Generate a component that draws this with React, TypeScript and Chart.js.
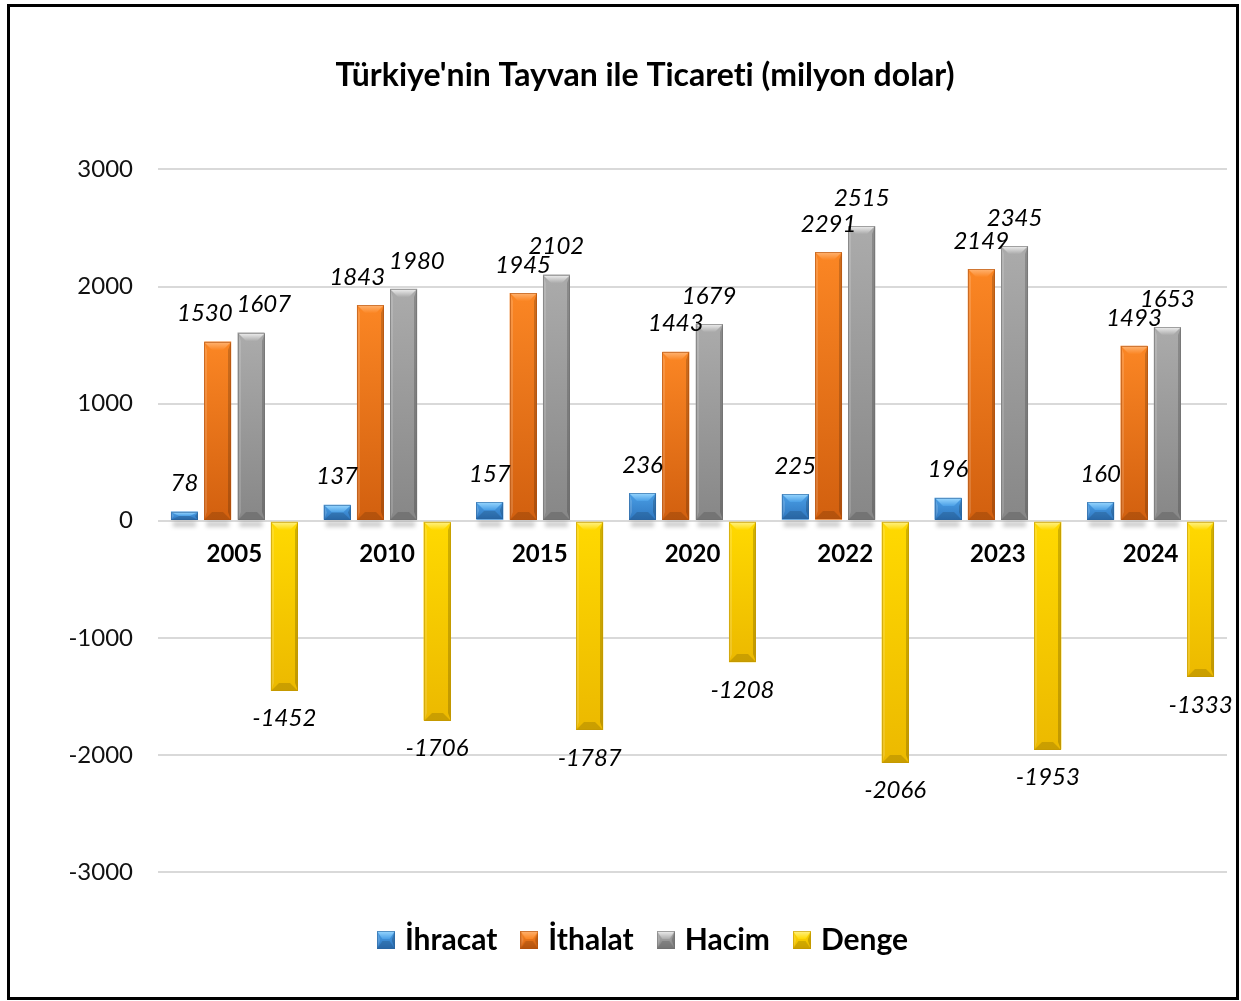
import React, { useEffect, useRef } from 'react';
import { Chart, registerables } from 'chart.js';

Chart.register(...registerables);

const TITLE = "Türkiye'nin Tayvan ile Ticareti (milyon dolar)";
const YEARS = ['2005', '2010', '2015', '2020', '2022', '2023', '2024'];
const SERIES_NAMES = ['İhracat', 'İthalat', 'Hacim', 'Denge'];
const IHRACAT = [78, 137, 157, 236, 225, 196, 160];
const ITHALAT = [1530, 1843, 1945, 1443, 2291, 2149, 1493];
const HACIM = [1607, 1980, 2102, 1679, 2515, 2345, 1653];
const DENGE = [-1452, -1706, -1787, -1208, -2066, -1953, -1333];
const Y_MIN = -3000;
const Y_MAX = 3000;
const Y_STEP = 1000;

const FONT = 'Lato, "Noto Sans", "Liberation Sans", sans-serif';

type Pal = { base: string; top: string; bottom: string; light: string; edge: string };
const PALETTES: Pal[] = [
  { base: '#3d8fd8', top: '#4a9fe6', bottom: '#2f77c0', light: '#9ad8ff', edge: '#2a649f' },
  { base: '#f07a1c', top: '#fb8624', bottom: '#d2600f', light: '#ffb473', edge: '#b1500d' },
  { base: '#a0a0a0', top: '#ababab', bottom: '#878787', light: '#f0f0f0', edge: '#6e6e6e' },
  { base: '#fcd000', top: '#ffd900', bottom: '#ecb900', light: '#fff38a', edge: '#c29600' },
];

function poly(ctx: CanvasRenderingContext2D, pts: number[][], fill: string | CanvasGradient) {
  ctx.beginPath();
  ctx.moveTo(pts[0][0], pts[0][1]);
  for (let i = 1; i < pts.length; i++) ctx.lineTo(pts[i][0], pts[i][1]);
  ctx.closePath();
  ctx.fillStyle = fill;
  ctx.fill();
}

function drawBevel(ctx: CanvasRenderingContext2D, l: number, t: number, w: number, h: number, p: Pal) {
  if (w <= 0 || h <= 0) return;
  const r = l + w;
  const b = t + h;
  const g = ctx.createLinearGradient(0, t, 0, b);
  g.addColorStop(0, p.top);
  g.addColorStop(1, p.bottom);
  ctx.fillStyle = g;
  ctx.fillRect(l, t, w, h);
  const bv = Math.min(8, h / 2);
  const sw = Math.min(w * 0.3, 8);
  const ss = Math.min(3, w / 6);
  poly(ctx, [[l, t], [l + ss, t + bv], [l + ss, b - bv], [l, b]], 'rgba(255,255,255,0.15)');
  poly(ctx, [[r, t], [r - ss, t + bv], [r - ss, b - bv], [r, b]], 'rgba(0,0,0,0.18)');
  const tg = ctx.createLinearGradient(0, t, 0, t + bv);
  tg.addColorStop(0, p.light);
  tg.addColorStop(1, p.top);
  poly(ctx, [[l, t], [r, t], [r - sw, t + bv], [l + sw, t + bv]], tg);
  poly(ctx, [[l, b], [r, b], [r - sw, b - bv], [l + sw, b - bv]], 'rgba(0,0,0,0.14)');
  ctx.strokeStyle = p.edge;
  ctx.globalAlpha = 0.6;
  ctx.lineWidth = 1;
  ctx.strokeRect(l + 0.5, t + 0.5, w - 1, h - 1);
  ctx.globalAlpha = 1;
}

function legendSwatch(p: Pal): HTMLCanvasElement {
  const c = document.createElement('canvas');
  c.width = 18;
  c.height = 18;
  const ctx = c.getContext('2d')!;
  drawBevel(ctx, 0, 0, 18, 18, p);
  return c;
}

const textPlugin = {
  id: 'noLigatures',
  beforeDraw(chart: any) {
    try {
      (chart.ctx as any).textRendering = 'optimizeSpeed';
    } catch (e) {
      /* ignore */
    }
  },
};

const bevelPlugin = {
  id: 'bevelBars',
  beforeDatasetsDraw(chart: any) {
    const ctx = chart.ctx as CanvasRenderingContext2D;
    chart.data.datasets.forEach((ds: any, di: number) => {
      const meta = chart.getDatasetMeta(di);
      meta.data.forEach((el: any, i: number) => {
        const v = ds.data[i];
        if (v <= 0) return;
        const { x, base, width } = el.getProps(['x', 'base', 'width'], true);
        ctx.save();
        ctx.filter = 'blur(2px)';
        ctx.fillStyle = 'rgba(0,0,0,0.22)';
        ctx.fillRect(x - width / 2 + 2, base + 2, width - 4, 5);
        ctx.restore();
      });
    });
  },
  afterDatasetsDraw(chart: any) {
    const ctx = chart.ctx as CanvasRenderingContext2D;
    ctx.save();
    chart.data.datasets.forEach((ds: any, di: number) => {
      const meta = chart.getDatasetMeta(di);
      const p = PALETTES[di];
      meta.data.forEach((el: any) => {
        const { x, y, base, width } = el.getProps(['x', 'y', 'base', 'width'], true);
        const top = Math.min(y, base);
        const h = Math.abs(base - y);
        drawBevel(ctx, Math.round(x - width / 2), Math.round(top), Math.round(width), Math.round(h), p);
      });
    });
    ctx.font = `italic 24px ${FONT}`;
    ctx.fillStyle = '#000';
    ctx.textAlign = 'center';
    ctx.textBaseline = 'middle';
    // collect label positions
    const labels: { text: string; x: number; y: number; w: number; di: number; i: number }[][] = [];
    chart.data.datasets.forEach((ds: any, di: number) => {
      const meta = chart.getDatasetMeta(di);
      meta.data.forEach((el: any, i: number) => {
        const v = ds.data[i];
        const { x, y } = el.getProps(['x', 'y'], true);
        const ly = v >= 0 ? y - 28 : y + 28;
        const text = String(v);
        if (!labels[i]) labels[i] = [];
        labels[i].push({ text, x, y: ly, w: ctx.measureText(text).width, di, i });
      });
    });
    // simple overlap avoidance between neighbouring labels in a category
    labels.forEach((group) => {
      for (let k = 0; k < group.length - 1; k++) {
        const a = group[k];
        const b = group[k + 1];
        if (Math.abs(a.y - b.y) < 18) {
          const need = (a.w + b.w) / 2 + 4;
          const dx = b.x - a.x;
          if (dx < need) {
            const s = (need - dx) / 2;
            a.x -= s;
            b.x += s;
          }
        }
      }
      group.forEach((lb) => ctx.fillText(lb.text, lb.x, lb.y));
    });
    ctx.restore();
  },
};

export default function App() {
  const ref = useRef<HTMLCanvasElement | null>(null);

  useEffect(() => {
    if (!ref.current) return;
    const swatches = PALETTES.map(legendSwatch);
    const seriesData = [IHRACAT, ITHALAT, HACIM, DENGE];
    const chart = new Chart(ref.current, {
      type: 'bar',
      data: {
        labels: YEARS,
        datasets: SERIES_NAMES.map((name, i) => ({
          label: name,
          data: seriesData[i],
          backgroundColor: PALETTES[i].base,
          borderWidth: 0,
          categoryPercentage: 0.872,
          barPercentage: 0.81,
        })),
      },
      options: {
        responsive: false,
        animation: false,
        devicePixelRatio: 1,
        layout: { padding: { left: 63, right: 14, top: 0, bottom: 36 } },
        scales: {
          x: {
            position: 'bottom',
            grid: { display: false },
            border: { display: false },
            ticks: { display: false },
            afterFit: (s: any) => {
              s.height = 25;
            },
          },
          xLabels: {
            type: 'category',
            labels: YEARS,
            position: { y: 0 },
            offset: true,
            grid: { display: false, drawTicks: false },
            border: { display: false },
            ticks: {
              color: '#000',
              padding: 19,
              font: { family: FONT, size: 24, weight: 'bold' },
              maxRotation: 0,
            },
          },
          y: {
            min: Y_MIN,
            max: Y_MAX,
            border: { display: false },
            grid: { color: '#d9d9d9', lineWidth: 2, drawTicks: false },
            ticks: {
              stepSize: Y_STEP,
              color: '#111',
              padding: 25,
              font: { family: FONT, size: 24 },
              callback: (v: any) => String(v),
            },
            afterFit: (s: any) => {
              s.width = 95;
            },
          },
        } as any,
        plugins: {
          title: {
            display: true,
            text: TITLE,
            color: '#000',
            font: { family: FONT, size: 32, weight: 'bold' },
            padding: { top: 56, bottom: 75 },
          },
          legend: {
            display: true,
            position: 'bottom',
            labels: {
              usePointStyle: true,
              pointStyleWidth: 8,
              padding: 28,
              color: '#000',
              font: { family: FONT, size: 30, weight: 'bold' },
              generateLabels: (c: any) =>
                c.data.datasets.map((ds: any, i: number) => ({
                  text: ds.label,
                  fillStyle: PALETTES[i].base,
                  strokeStyle: PALETTES[i].base,
                  lineWidth: 0,
                  pointStyle: swatches[i],
                  hidden: false,
                  datasetIndex: i,
                  fontColor: '#000',
                })),
            },
          },
          tooltip: { enabled: false },
        },
      },
      plugins: [textPlugin, bevelPlugin],
    });
    return () => chart.destroy();
  }, []);

  return (
    <div style={{ position: 'absolute', left: 0, top: 0, width: 1241, height: 1001, background: '#fff' }}>
      <canvas ref={ref} width={1241} height={1001} style={{ position: 'absolute', left: 0, top: 0, width: 1241, height: 1001 }} />
      <div
        style={{
          position: 'absolute',
          left: 7,
          top: 4,
          width: 1232,
          height: 996,
          boxSizing: 'border-box',
          border: '3px solid #000',
          pointerEvents: 'none',
        }}
      />
    </div>
  );
}
